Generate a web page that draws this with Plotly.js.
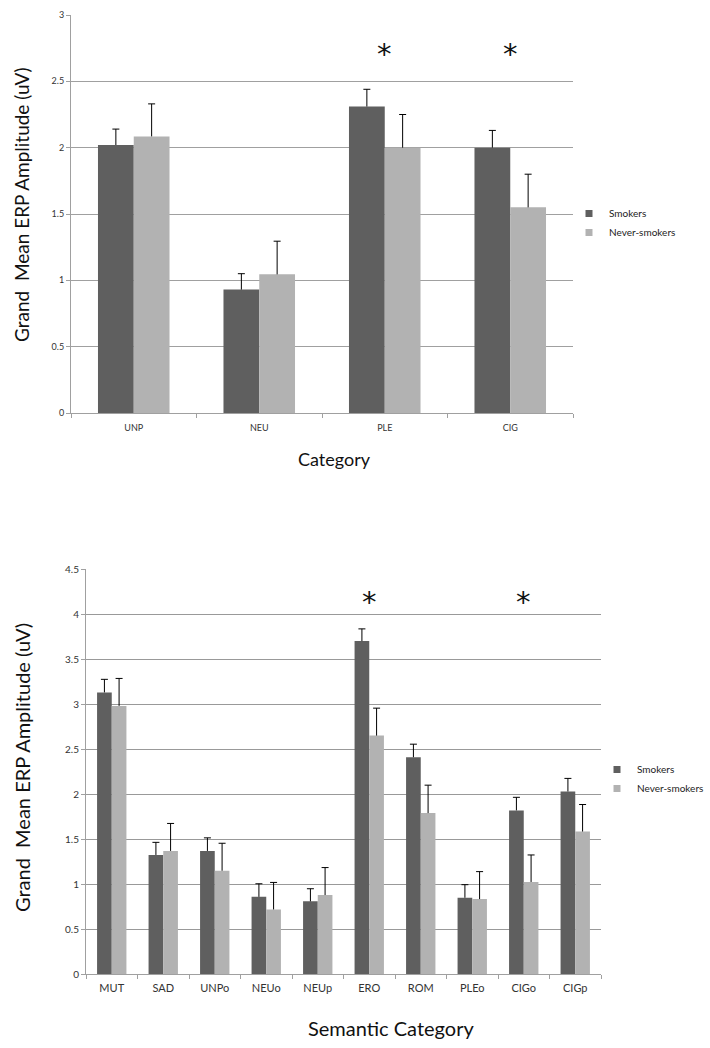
<!DOCTYPE html>
<html>
<head>
<meta charset="utf-8">
<script src="https://cdn.plot.ly/plotly-3.0.1.min.js"></script>
<style>html,body{margin:0;padding:0;background:#fff;}#chart{width:710px;height:1048px;}</style>
</head>
<body>
<div id="chart"></div>
<script>
// ---- Top chart data ----
const topCategories = ['UNP', 'NEU', 'PLE', 'CIG'];
const topSmokers = [2.02, 0.93, 2.31, 2.00];
const topSmokersErr = [0.12, 0.12, 0.13, 0.13];
const topNever = [2.085, 1.045, 2.00, 1.55];
const topNeverErr = [0.245, 0.25, 0.25, 0.25];
const topSigCats = ['PLE', 'CIG'];
const topSigY = [2.75, 2.75];

// ---- Bottom chart data ----
const botCategories = ['MUT', 'SAD', 'UNPo', 'NEUo', 'NEUp', 'ERO', 'ROM', 'PLEo', 'CIGo', 'CIGp'];
const botSmokers = [3.13, 1.325, 1.37, 0.86, 0.81, 3.70, 2.41, 0.85, 1.82, 2.03];
const botSmokersErr = [0.145, 0.14, 0.145, 0.145, 0.14, 0.135, 0.145, 0.145, 0.145, 0.145];
const botNever = [2.98, 1.37, 1.15, 0.72, 0.88, 2.65, 1.79, 0.835, 1.025, 1.585];
const botNeverErr = [0.305, 0.305, 0.305, 0.30, 0.305, 0.305, 0.31, 0.305, 0.30, 0.30];
const botSigCats = ['ERO', 'CIGo'];
const botSigY = [4.19, 4.19];

const seriesNames = ['Smokers', 'Never-smokers'];
const dark = '#5f5f5f', light = '#b2b2b2';
const FONT = 'Lato, "Open Sans", sans-serif';
const BARGAP = 0.43;

function bar(x, y, name, color, xa, ya, grp) {
  return {type: 'bar', x: x, y: y, name: name, xaxis: xa, yaxis: ya, offsetgroup: grp,
          marker: {color: color, line: {width: 0}}, showlegend: false, hoverinfo: 'skip'};
}
// "plus" error bar: a whisker from the bar top up to value+err, with a cap marker
function whisker(x, y, err, xa, ya, grp) {
  return {type: 'scatter', mode: 'markers', x: x, y: y.map((v, i) => v + err[i]),
          xaxis: xa, yaxis: ya, offsetgroup: grp, showlegend: false, hoverinfo: 'skip',
          marker: {symbol: 'line-ew', size: 5, color: '#000', line: {width: 1, color: '#000'}},
          error_y: {type: 'data', symmetric: false, array: err.map(() => 0), arrayminus: err,
                    color: '#000', thickness: 1, width: 0}};
}
function legendEntry(x, name, color, xa, ya, grp, legend) {
  return {type: 'scatter', mode: 'markers', x: [x[0]], y: [null], name: name, xaxis: xa, yaxis: ya,
          offsetgroup: grp, legend: legend, showlegend: true, hoverinfo: 'skip',
          marker: {symbol: 'square', size: 7, color: color}};
}

const data = [
  bar(topCategories, topSmokers, seriesNames[0], dark, 'x', 'y', 's'),
  bar(topCategories, topNever, seriesNames[1], light, 'x', 'y', 'n'),
  whisker(topCategories, topSmokers, topSmokersErr, 'x', 'y', 's'),
  whisker(topCategories, topNever, topNeverErr, 'x', 'y', 'n'),
  legendEntry(topCategories, seriesNames[0], dark, 'x', 'y', 's', 'legend'),
  legendEntry(topCategories, seriesNames[1], light, 'x', 'y', 'n', 'legend'),
  bar(botCategories, botSmokers, seriesNames[0], dark, 'x2', 'y2', 's'),
  bar(botCategories, botNever, seriesNames[1], light, 'x2', 'y2', 'n'),
  whisker(botCategories, botSmokers, botSmokersErr, 'x2', 'y2', 's'),
  whisker(botCategories, botNever, botNeverErr, 'x2', 'y2', 'n'),
  legendEntry(botCategories, seriesNames[0], dark, 'x2', 'y2', 's', 'legend2'),
  legendEntry(botCategories, seriesNames[1], light, 'x2', 'y2', 'n', 'legend2')
];

const W = 710, H = 1048;
const axisCommon = {linecolor: '#a0a0a0', linewidth: 1, showline: true, zeroline: false,
                    ticks: 'outside', tickcolor: '#a0a0a0', ticklen: 4, fixedrange: true};

const starAnns = [];
topSigCats.forEach((c, i) => starAnns.push({text: '*', x: c, y: topSigY[i], xref: 'x', yref: 'y',
  showarrow: false, xanchor: 'center', yanchor: 'middle', yshift: -6,
  font: {size: 29, color: '#111', family: 'DejaVu Sans'}}));
botSigCats.forEach((c, i) => starAnns.push({text: '*', x: c, y: botSigY[i], xref: 'x2', yref: 'y2',
  showarrow: false, xanchor: 'center', yanchor: 'middle', yshift: -5,
  font: {size: 29, color: '#111', family: 'DejaVu Sans'}}));

const layout = {
  width: W, height: H, margin: {l: 0, r: 0, t: 0, b: 0},
  paper_bgcolor: '#fff', plot_bgcolor: '#fff',
  font: {family: FONT, color: '#333'},
  barmode: 'group', bargap: BARGAP, bargroupgap: 0,
  scattermode: 'group', scattergap: BARGAP,
  xaxis: Object.assign({}, axisCommon, {domain: [71/W, 573/W], anchor: 'y', type: 'category',
          tickson: 'boundaries', showgrid: false, tickfont: {size: 9, color: '#333'},
          ticklabelstandoff: 6}),
  yaxis: Object.assign({}, axisCommon, {domain: [1-413/H, 1-15/H], anchor: 'x', range: [0, 3],
          dtick: 0.5, showgrid: true, gridcolor: '#a0a0a0', gridwidth: 1,
          tickfont: {size: 9, color: '#333'}}),
  xaxis2: Object.assign({}, axisCommon, {domain: [86/W, 601/W], anchor: 'y2', type: 'category',
          tickson: 'boundaries', showgrid: false, tickfont: {size: 11, color: '#333'},
          ticklabelstandoff: 3}),
  yaxis2: Object.assign({}, axisCommon, {domain: [1-974.3/H, 1-569/H], anchor: 'x2', range: [0, 4.5],
          dtick: 0.5, showgrid: true, gridcolor: '#999999', gridwidth: 1,
          tickfont: {size: 10, color: '#333'}}),
  legend: {x: 569/W, y: 1-199/H, xanchor: 'left', yanchor: 'top', bgcolor: 'rgba(0,0,0,0)',
           font: {size: 10, color: '#222'}, itemwidth: 30, tracegroupgap: 0, traceorder: 'normal'},
  legend2: {x: 597/W, y: 1-755/H, xanchor: 'left', yanchor: 'top', bgcolor: 'rgba(0,0,0,0)',
           font: {size: 10, color: '#222'}, itemwidth: 30, tracegroupgap: 0, traceorder: 'normal'},
  annotations: starAnns.concat([
    {text: 'Grand\u00a0 Mean ERP Amplitude (uV)', textangle: -90, xref: 'paper', yref: 'paper',
     x: 22/W, y: 1-205/H, xanchor: 'center', yanchor: 'middle', showarrow: false,
     font: {size: 19, color: '#111', family: FONT}},
    {text: 'Category', xref: 'paper', yref: 'paper', x: 334/W, y: 1-459/H,
     xanchor: 'center', yanchor: 'middle', showarrow: false, font: {size: 18, color: '#111', family: FONT}},
    {text: 'Grand\u00a0 Mean ERP Amplitude (uV)', textangle: -90, xref: 'paper', yref: 'paper',
     x: 22/W, y: 1-768/H, xanchor: 'center', yanchor: 'middle', showarrow: false,
     font: {size: 20, color: '#111', family: FONT}},
    {text: 'Semantic Category', xref: 'paper', yref: 'paper', x: 391/W, y: 1-1028/H,
     xanchor: 'center', yanchor: 'middle', showarrow: false, font: {size: 20, color: '#111', family: FONT}}
  ])
};

Plotly.newPlot('chart', data, layout, {staticPlot: true, displayModeBar: false});
</script>
</body>
</html>
